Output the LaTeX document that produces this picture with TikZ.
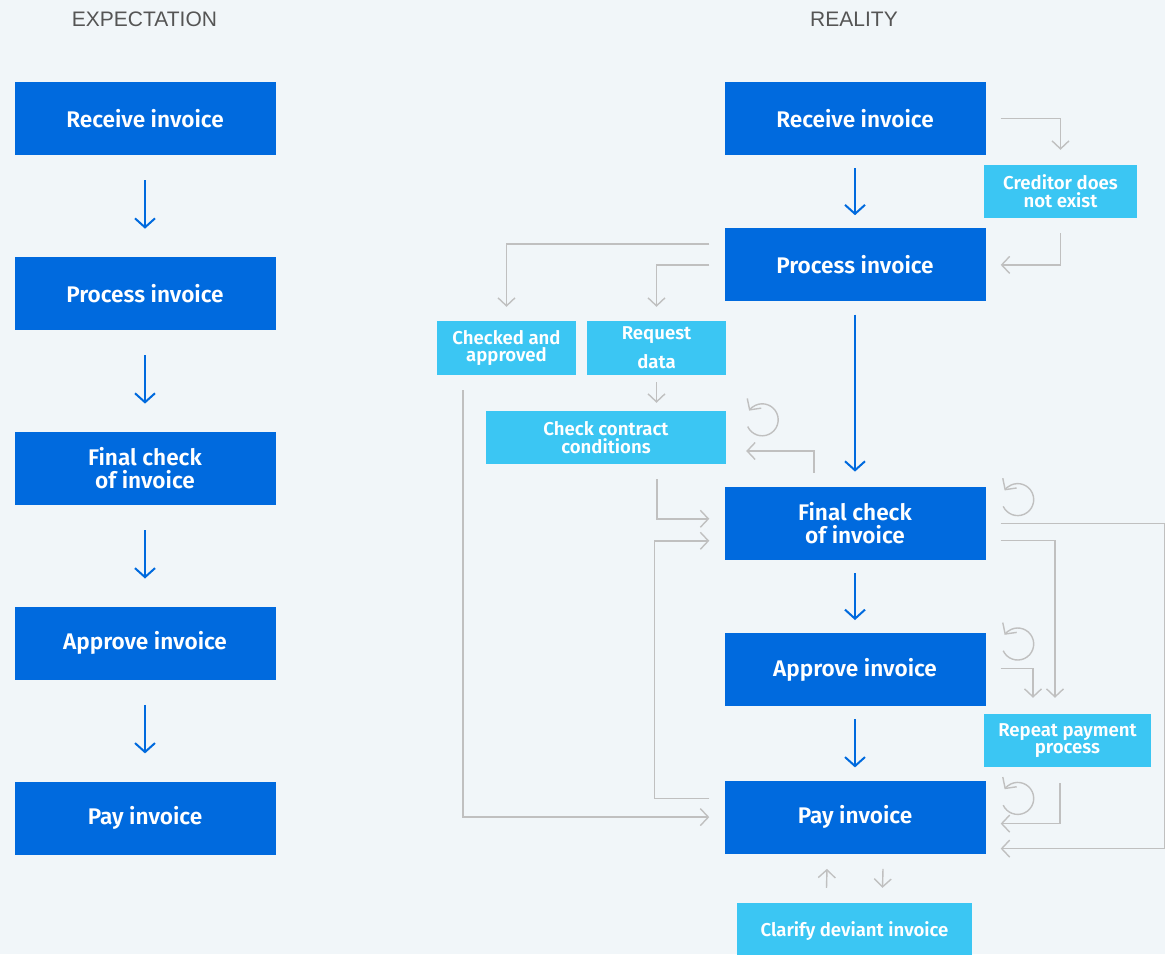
\documentclass[tikz,border=0pt]{standalone}
\usepackage{fontspec}
\setmainfont{Fira Sans}[BoldFont={Fira Sans SemiBold}]
\newfontfamily\titlefont{Liberation Sans}
\usepackage{xcolor}
\usepackage{tikz}
\usetikzlibrary{arrows.meta,positioning}
\definecolor{boxblue}{RGB}{0,106,222}
\definecolor{lightblue}{RGB}{59,198,243}
\definecolor{linegray}{RGB}{192,192,192}
\definecolor{titlegray}{RGB}{85,85,85}
\definecolor{bgcolor}{RGB}{241,246,249}

\begin{document}
\begin{tikzpicture}[x=1pt,y=1pt,
mainstep/.style={fill=boxblue, text=white, minimum width=261pt, minimum height=73pt, inner sep=0pt, align=center, font=\bfseries\fontsize{22.6}{23.5}\selectfont},
sidestep/.style={fill=lightblue, text=white, inner sep=0pt, align=center, font=\bfseries\fontsize{18.6}{17.8}\selectfont},
heading/.style={text=titlegray, font=\titlefont\fontsize{21}{21}\selectfont},
arrow/.style={-{Straight Barb[length=9pt,width=20pt]}, line width=2pt, boxblue, shorten <=13pt, shorten >=13pt},
grayarrow/.style={-{Straight Barb[length=8pt,width=17pt]}, line width=1.4pt, linegray}
]
\fill[bgcolor, use as bounding box] (0,0) rectangle (1165,-954);

\node[heading] (hexp) at (144.5,-19) {EXPECTATION};
\node[heading] (hreal) at (854,-19) {REALITY};

% expectation
\node[mainstep] (lrecv) at (145,-118.5) {Receive invoice};
\node[mainstep, below=101.5pt of lrecv] (lproc) {Process invoice};
\node[mainstep, below=101.5pt of lproc] (lfinal) {Final check\\of invoice};
\node[mainstep, below=101.5pt of lfinal] (lappr) {Approve invoice};
\node[mainstep, below=101.5pt of lappr] (lpay) {Pay invoice};

\draw[arrow, shorten <=25pt, shorten >=28pt] (lrecv) -- (lproc);
\draw[arrow, shorten <=25pt, shorten >=28pt] (lproc) -- (lfinal);
\draw[arrow, shorten <=25pt, shorten >=28pt] (lfinal) -- (lappr);
\draw[arrow, shorten <=25pt, shorten >=28pt] (lappr) -- (lpay);

% reality
\node[mainstep] (rrecv) at (855,-118.5) {Receive invoice};
\node[mainstep, below=73pt of rrecv] (rproc) {Process invoice};
\node[mainstep, below=185pt of rproc] (rfinal) {Final check\\of invoice};
\node[mainstep, below=73pt of rfinal] (rappr) {Approve invoice};
\node[mainstep, below=74pt of rappr] (rpay) {Pay invoice};

\node[sidestep, minimum width=153pt, minimum height=53pt] (cred) at (1060.5,-191.5) {Creditor does\\not exist};
\node[sidestep, minimum width=139pt, minimum height=54pt] (chkd) at (506.5,-348) {Checked and\\approved};
\node[sidestep, minimum width=139pt, minimum height=54pt] (reqd) at (656.5,-348) {Request\\[10pt]data};
\node[sidestep, minimum width=240pt, minimum height=53pt] (ccc) at (606,-437.5) {Check contract\\conditions};
\node[sidestep, minimum width=167pt, minimum height=53pt] (rpt) at (1067.5,-740.5) {Repeat payment\\process};
\node[sidestep, minimum width=235pt, minimum height=56pt] (clar) at (854.5,-931) {Clarify deviant invoice};

\draw[arrow] (rrecv) -- (rproc);
\draw[arrow, shorten >=15pt] (rproc) -- (rfinal);
\draw[arrow] (rfinal) -- (rappr);
\draw[arrow] (rappr) -- (rpay);

% side paths
\draw[grayarrow] ([xshift=15pt]rrecv.east) -| ([yshift=15pt]cred.north);
\draw[grayarrow] ([yshift=-15pt]cred.south) |- ([xshift=15pt]rproc.east);
\draw[grayarrow] ([xshift=-15pt,yshift=21pt]rproc.west) -| ([yshift=14pt]chkd.north);
\draw[grayarrow] ([xshift=-15pt]rproc.west) -| ([yshift=14pt]reqd.north);
\draw[grayarrow, shorten <=7pt, shorten >=8pt] (reqd.south) -- (reqd.south |- ccc.north);
\draw[grayarrow] ([xshift=-41pt,yshift=14pt]rfinal.north) |- ([xshift=20pt,yshift=-13.5pt]ccc.east);
\draw[grayarrow] ([xshift=51pt,yshift=-15pt]ccc.south) |- ([xshift=-15pt,yshift=4.5pt]rfinal.west);
\draw[grayarrow] ([xshift=-43.5pt,yshift=-15pt]chkd.south) |- ([xshift=-15pt]rpay.west);
\draw[grayarrow] ([xshift=-15pt,yshift=18.5pt]rpay.west) -- ++(-55,0) |- ([xshift=-15pt,yshift=-17.5pt]rfinal.west);
\draw[grayarrow] ([xshift=15pt]rfinal.east) -- ++(164,0) |- ([xshift=15pt,yshift=-31.5pt]rpay.east);
\draw[grayarrow] ([xshift=15pt,yshift=-17pt]rfinal.east) -| ([xshift=-12.5pt,yshift=16pt]rpt.north);
\draw[grayarrow] ([xshift=15pt,yshift=1.5pt]rappr.east) -| ([xshift=-34.5pt,yshift=16pt]rpt.north);
\draw[grayarrow] ([xshift=-7.5pt,yshift=-16pt]rpt.south) |- ([xshift=15pt,yshift=-6.5pt]rpay.east);
\draw[grayarrow] ([xshift=-28pt,yshift=15pt]clar.north) -- ([xshift=-28pt,yshift=-15pt]rpay.south);
\draw[grayarrow] ([xshift=28pt,yshift=-15pt]rpay.south) -- ([xshift=28pt,yshift=15pt]clar.north);

% loops
\draw[grayarrow] ([xshift=36pt,yshift=-9pt]ccc.north east) ++(-155:16pt) arc[start angle=-155, end angle=145, radius=16pt];
\draw[grayarrow] ([xshift=32pt,yshift=-13pt]rfinal.north east) ++(-155:16pt) arc[start angle=-155, end angle=145, radius=16pt];
\draw[grayarrow] ([xshift=32pt,yshift=-11pt]rappr.north east) ++(-155:16pt) arc[start angle=-155, end angle=145, radius=16pt];
\draw[grayarrow] ([xshift=32pt,yshift=-18pt]rpay.north east) ++(-155:16pt) arc[start angle=-155, end angle=145, radius=16pt];
\end{tikzpicture}
\end{document}
